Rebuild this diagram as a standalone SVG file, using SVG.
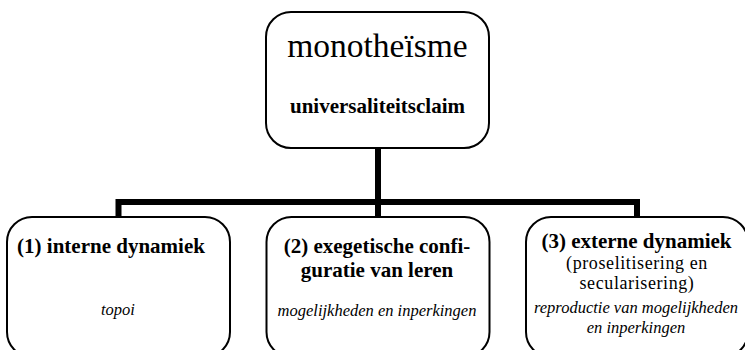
<svg xmlns="http://www.w3.org/2000/svg" width="745" height="350" viewBox="0 0 745 350">
<style>
.box{fill:#fff;stroke:#000;stroke-width:2}
.conn{fill:none;stroke:#000;stroke-width:6;stroke-linejoin:miter}
text{font-family:"Liberation Serif","DejaVu Serif",serif;fill:#000;text-anchor:middle}
.b{font-weight:bold;font-size:21px}
.r{font-size:18px;letter-spacing:0.6px}
.i{font-style:italic;font-size:16.5px}
.big{font-size:33.5px}
</style>
<rect width="745" height="350" fill="#fff"/>
<g id="connectors">
<path class="conn" d="M378,148 V217"/>
<path class="conn" d="M118.5,217 V202 H637 V217"/>
</g>
<g id="top">
<rect class="box" x="266" y="12" width="223" height="136" rx="25"/>
<text class="big" x="377.5" y="57">monotheïsme</text>
<text class="b" x="377.5" y="113">universaliteitsclaim</text>
</g>
<g id="node1">
<rect class="box" x="7" y="217" width="223" height="140" rx="25"/>
<text class="b" x="111" y="253">(1) interne dynamiek</text>
<text class="i" x="118" y="315">topoi</text>
</g>
<g id="node2">
<rect class="box" x="266.5" y="217" width="223" height="140" rx="25"/>
<text class="b" x="377" y="253">(2) exegetische confi-</text>
<text class="b" x="377" y="277">guratie van leren</text>
<text class="i" x="377" y="316">mogelijkheden en inperkingen</text>
</g>
<g id="node3">
<rect class="box" x="526" y="217" width="222" height="140" rx="25"/>
<text class="b" x="636.5" y="248">(3) externe dynamiek</text>
<text class="r" x="637" y="268.5">(proselitisering en</text>
<text class="r" x="637" y="288.5">secularisering)</text>
<text class="i" x="636" y="313">reproductie van mogelijkheden</text>
<text class="i" x="636" y="333">en inperkingen</text>
</g>
</svg>
